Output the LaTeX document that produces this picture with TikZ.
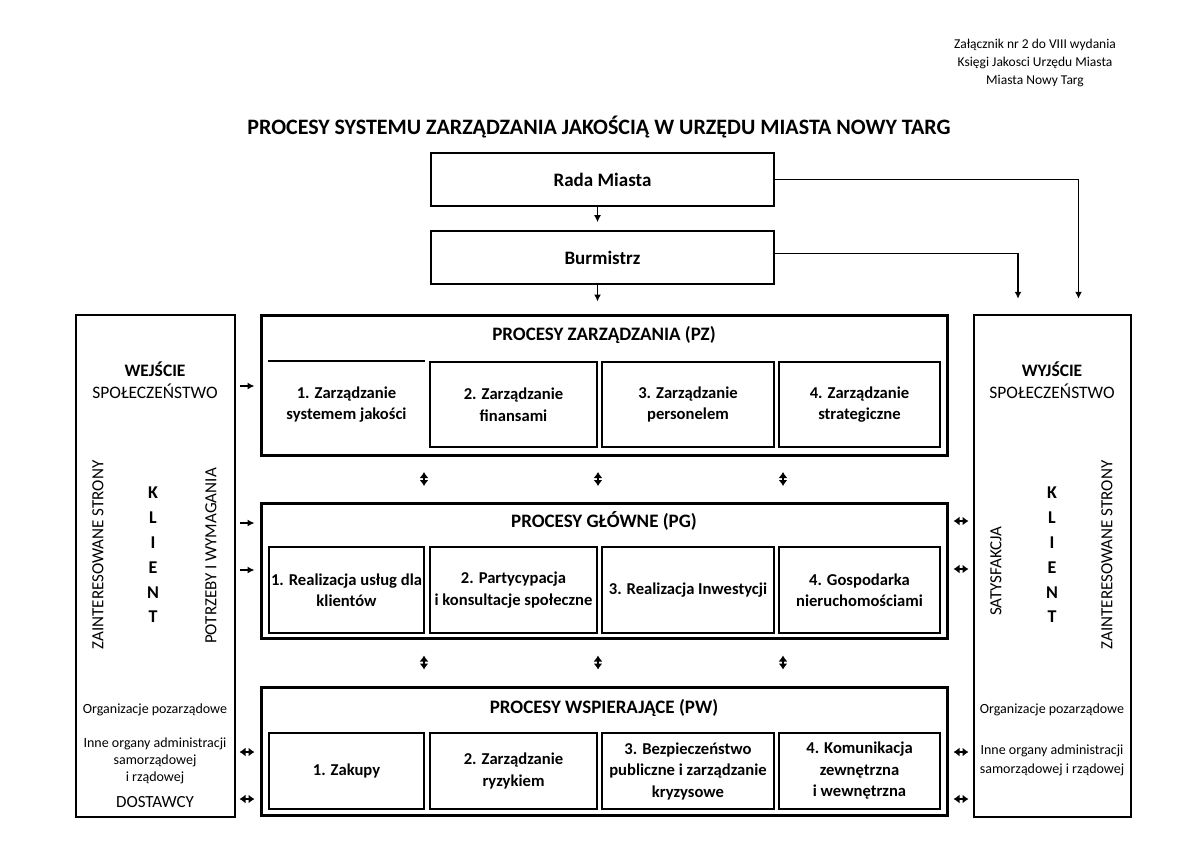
\documentclass[tikz,border=0pt]{standalone}
\usepackage{fontspec}
\setmainfont{Carlito}
\usetikzlibrary{arrows.meta,calc}

\begin{document}
\begin{tikzpicture}[x=1pt,y=1pt,
  box/.style={draw,line width=1.6pt,inner sep=2pt,align=center,
    font=\fontsize{16.6}{21.5}\selectfont\bfseries},
  group/.style={draw,line width=3pt},
  side/.style={draw,line width=2.5pt},
  title/.style={font=\fontsize{19}{22}\selectfont\bfseries},
  big/.style={font=\fontsize{17.5}{21}\selectfont},
  small/.style={font=\fontsize{14}{17}\selectfont,align=center},
  arr/.style={-{Latex[length=7pt,width=7pt]},line width=1.6pt},
  dbl/.style={{Latex[length=6pt,width=9pt]}-{Latex[length=6pt,width=9pt]},line width=2.2pt}]

\useasboundingbox (0,0) rectangle (1185,-855);

% header
\node[font=\fontsize{13.5}{18}\selectfont,align=center] (note) at (1035,-63)
  {Załącznik nr 2 do VIII wydania\\Księgi Jakosci Urzędu Miasta\\Miasta Nowy Targ};
\node[font=\fontsize{22}{26}\selectfont\bfseries] (head) at (599,-127)
  {PROCESY SYSTEMU ZARZĄDZANIA JAKOŚCIĄ W URZĘDU MIASTA NOWY TARG};

% top of the chain
\node[box,minimum width=343,minimum height=53,font=\fontsize{19}{22}\selectfont\bfseries]
  (rada) at (602.5,-179.5) {Rada Miasta};
\node[box,minimum width=343,minimum height=53,font=\fontsize{19}{22}\selectfont\bfseries]
  (burm) at (602.5,-257.5) {Burmistrz};

% side columns
\node[side,minimum width=159,minimum height=502] (we) at (155.5,-566) {};
\node[side,minimum width=157,minimum height=502] (wy) at (1052.5,-566) {};

% groups of processes
\node[group,minimum width=686,minimum height=140] (pz) at (604,-385) {};
\node[group,minimum width=686,minimum height=135] (pg) at (604,-570.5) {};
\node[group,minimum width=686,minimum height=128] (pw) at (604,-751) {};

\node[title] (pzt) at (604,-335) {PROCESY ZARZĄDZANIA (PZ)};
\node[title] (pgt) at (604,-521) {PROCESY GŁÓWNE (PG)};
\node[title] (pwt) at (604,-708) {PROCESY WSPIERAJĄCE (PW)};

% PZ
\node[box,draw=none,minimum width=155,minimum height=85] (pz1) at (346.5,-404.5)
  {1. Zarządzanie\\systemem jakości};
\draw[line width=1.6pt] (pz1.north west) -- (pz1.north east);
\node[box,minimum width=167,minimum height=85] (pz2) at (513.5,-404.5)
  {2. Zarządzanie\\finansami};
\node[box,minimum width=172,minimum height=85] (pz3) at (688,-404.5)
  {3. Zarządzanie\\personelem};
\node[box,minimum width=161,minimum height=85] (pz4) at (859.5,-404.5)
  {4. Zarządzanie\\strategiczne};

% PG
\node[box,minimum width=155,minimum height=86] (pg1) at (346.5,-590)
  {1. Realizacja usług dla\\klientów};
\node[box,minimum width=167,minimum height=86] (pg2) at (513.5,-590)
  {2. Partycypacja\\i konsultacje społeczne};
\node[box,minimum width=172,minimum height=86] (pg3) at (688,-590)
  {3. Realizacja Inwestycji};
\node[box,minimum width=161,minimum height=86] (pg4) at (859.5,-590)
  {4. Gospodarka\\nieruchomościami};

% PW
\node[box,minimum width=155,minimum height=76] (pw1) at (346.5,-771)
  {1. Zakupy};
\node[box,minimum width=167,minimum height=76] (pw2) at (513.5,-771)
  {2. Zarządzanie\\ryzykiem};
\node[box,minimum width=172,minimum height=76] (pw3) at (688,-771)
  {3. Bezpieczeństwo\\publiczne i zarządzanie\\kryzysowe};
\node[box,minimum width=161,minimum height=76] (pw4) at (859.5,-771)
  {4. Komunikacja\\zewnętrzna\\i wewnętrzna};

% left column texts
\node[big,font=\fontsize{17.5}{21}\selectfont\bfseries] (wehead) at (155,-369) {WEJŚCIE};
\node[big] (wesoc) at (155,-391) {SPOŁECZEŃSTWO};
\node[big,font=\fontsize{17}{20}\selectfont,rotate=90] (wepart) at (98,-555) {ZAINTERESOWANE STRONY};
\node[align=center,font=\fontsize{18}{24.8}\selectfont\bfseries] (wekl) at (153,-555)
  {K\\L\\I\\E\\N\\T};
\node[big,font=\fontsize{17}{20}\selectfont,rotate=90] (weneed) at (211,-556) {POTRZEBY I WYMAGANIA};
\node[small] (weorg) at (155,-710) {Organizacje pozarządowe};
\node[small] (weadm) at (155,-761) {Inne organy administracji\\samorządowej\\i rządowej};
\node[big,font=\fontsize{17}{20}\selectfont] (wesup) at (155,-802) {DOSTAWCY};

% right column texts
\node[big,font=\fontsize{17.5}{21}\selectfont\bfseries] (wyhead) at (1052,-369) {WYJŚCIE};
\node[big] (wysoc) at (1052,-391) {SPOŁECZEŃSTWO};
\node[big,font=\fontsize{17}{20}\selectfont,rotate=90] (wysat) at (996,-571) {SATYSFAKCJA};
\node[align=center,font=\fontsize{18}{24.8}\selectfont\bfseries] (wykl) at (1052,-555)
  {K\\L\\I\\E\\N\\T};
\node[big,font=\fontsize{17}{20}\selectfont,rotate=90] (wypart) at (1107,-555) {ZAINTERESOWANE STRONY};
\node[small] (wyorg) at (1052,-710) {Organizacje pozarządowe};
\node[small,font=\fontsize{14}{19}\selectfont] (wyadm) at (1052,-760.5)
  {Inne organy administracji\\samorządowej i rządowej};

% connectors
\draw[arr,shorten >=8pt] ([xshift=-5pt]rada.south) -- ([xshift=-5pt]burm.north);
\draw[arr,shorten >=12pt] ([xshift=-5pt]burm.south) -- ([xshift=-5pt]burm.south |- pz.north);
\draw[arr,shorten >=15pt] (rada.east) -| ([xshift=26pt]wy.north);
\draw[arr,shorten >=15pt] ([yshift=4pt]burm.east) -| ([xshift=-34.5pt]wy.north);

\foreach \x in {424,598,783}{
  \draw[dbl] ($(pz.south)!.5!(pg.north)+(\x-604,7)$) -- ++(0,-14);
  \draw[dbl] ($(pg.south)!.5!(pw.north)+(\x-604,7)$) -- ++(0,-14);
}

\draw[arr] ($(pz.west)+(-20,-1)$) -- ++(15,0);
\draw[arr] ($(pg.west)+(-20,47.5)$) -- ++(15,0);
\draw[arr] ($(pg.west)+(-20,0.5)$) -- ++(15,0);
\draw[dbl] ($(pw.west)+(-20,-1)$) -- ++(15,0);
\draw[dbl] ($(pw.west)+(-20,-48)$) -- ++(15,0);

\draw[dbl] ($(pg.east)+(5,49.5)$) -- ++(15,0);
\draw[dbl] ($(pg.east)+(5,1.5)$) -- ++(15,0);
\draw[dbl] ($(pw.east)+(5,-1)$) -- ++(15,0);
\draw[dbl] ($(pw.east)+(5,-48)$) -- ++(15,0);
\end{tikzpicture}
\end{document}
